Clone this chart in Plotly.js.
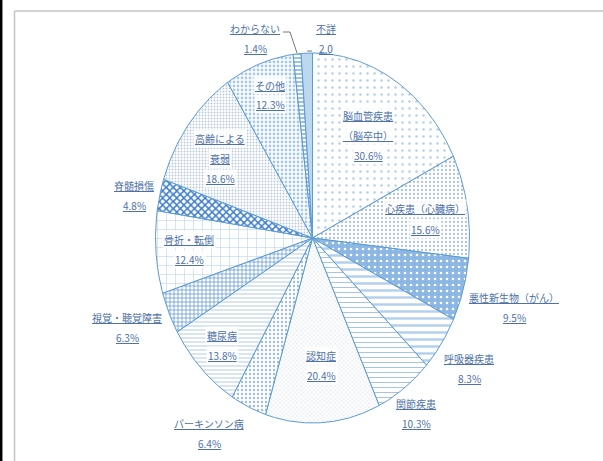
<!DOCTYPE html>
<html><head><meta charset="utf-8">
<script src="https://cdn.plot.ly/plotly-3.0.1.min.js"></script>
<style>html,body{margin:0;padding:0;background:#fff}#chart{width:603px;height:461px}</style>
</head><body><div id="chart"></div>
<script>
// Data (clockwise from 12 o'clock)
const categories = ['脳血管疾患（脳卒中）','心疾患（心臓病）','悪性新生物（がん）','呼吸器疾患','関節疾患','認知症','パーキンソン病','糖尿病','視覚・聴覚障害','骨折・転倒','脊髄損傷','高齢による衰弱','その他','わからない','不詳'];
const values = [30.6, 15.6, 9.5, 8.3, 10.3, 20.4, 6.4, 13.8, 6.3, 12.4, 4.8, 18.6, 12.3, 1.4, 2.0];
const labelLines = [['脳血管疾患','（脳卒中）'],['心疾患（心臓病）'],['悪性新生物（がん）'],['呼吸器疾患'],['関節疾患'],['認知症'],['パーキンソン病'],['糖尿病'],['視覚・聴覚障害'],['骨折・転倒'],['脊髄損傷'],['高齢による','衰弱'],['その他'],['わからない'],['不詳']];
const valueTexts = ['30.6%','15.6%','9.5%','8.3%','10.3%','20.4%','6.4%','13.8%','6.3%','12.4%','4.8%','18.6%','12.3%','1.4%','2.0'];

// Styles
const W = 603, H = 461;
const CX = 312.5, CY = 238, RX = 157, RY = 185;
const edge = '#5b9bd5';
const textColor = '#4e71a8';
const patterns = [
  {bg:'#ffffff', fg:'#b3cfec', shape:'.', size:7, solidity:0.1},
  {bg:'#ffffff', fg:'#b0c2da', shape:'.', size:4, solidity:0.25},
  {bg:'#8db7e3', fg:'#ffffff', shape:'.', size:6, solidity:0.15},
  {bg:'#ffffff', fg:'#b3d0ec', shape:'-', size:7, solidity:0.35},
  {bg:'#ffffff', fg:'#9dbde2', shape:'-', size:5, solidity:0.18},
  {bg:'#ffffff', fg:'#c2cfdf', shape:'x', size:3, solidity:0.18},
  {bg:'#ffffff', fg:'#9dbde2', shape:'.', size:4, solidity:0.28},
  {bg:'#ffffff', fg:'#b5cce6', shape:'-', size:4, solidity:0.25},
  {bg:'#ffffff', fg:'#4a89cf', shape:'+', size:4, solidity:0.3},
  {bg:'#ffffff', fg:'#b5d0ec', shape:'+', size:9, solidity:0.12},
  {bg:'#ffffff', fg:'#3d7cc9', shape:'x', size:5, solidity:0.5},
  {bg:'#ffffff', fg:'#bac8da', shape:'.', size:3, solidity:0.3},
  {bg:'#ffffff', fg:'#a9c9e8', shape:'.', size:4, solidity:0.4},
  {bg:'#ffffff', fg:'#5b9bd5', shape:'-', size:4, solidity:0.3},
  {bg:'#bdd7ee', fg:'#bdd7ee', shape:'', size:4, solidity:0.3}
];
// label positions in pixels: [x, y of first line]
const labelPos = [
  [368,115],[425,209],[514,297],[469,358],[416,403],[321,355],[209,423],[222,335],[127,317],[189,239],[134,185],[220,138],[270,85],[255,28],[326,28]
];
const inside = [true,true,false,false,false,true,false,true,false,true,false,true,true,false,false];

const total = values.reduce((a,b)=>a+b,0);
let cum = 0;
const traces = values.map((v,i)=>{
  const a0 = cum/total*2*Math.PI; cum += v; const a1 = cum/total*2*Math.PI;
  const n = Math.max(2, Math.ceil((a1-a0)/(Math.PI/360)));
  const xs=[0], ys=[0];
  for(let k=0;k<=n;k++){const a=a0+(a1-a0)*k/n; xs.push(Math.sin(a)); ys.push(Math.cos(a));}
  xs.push(0); ys.push(0);
  const p = patterns[i];
  const t = {type:'scatter', mode:'lines', x:xs, y:ys, fill:'toself', fillcolor:p.bg,
    line:{color:edge, width:1}, hoverinfo:'skip', showlegend:false, name:categories[i]};
  if(p.shape) t.fillpattern = {shape:p.shape, bgcolor:p.bg, fgcolor:p.fg, size:p.size, solidity:p.solidity, fillmode:'replace'};
  return t;
});

const px = x => x/W, py = y => 1 - y/H;
const annotations = [];
const font = {family:'"Noto Sans CJK JP", "Noto Sans", sans-serif', size:10, color:textColor};
values.forEach((v,i)=>{
  const lines = labelLines[i].concat([valueTexts[i]]);
  lines.forEach((ln,j)=>{
    annotations.push({xref:'paper', yref:'paper', x:px(labelPos[i][0]), y:py(labelPos[i][1]+j*20),
      text:'<u>'+ln+'</u>', showarrow:false, xanchor:'center', yanchor:'middle', font:font,
      bgcolor: inside[i] ? 'rgba(255,255,255,0.85)' : 'rgba(0,0,0,0)', borderpad:1});
  });
});

const shapes = [
  {type:'line', xref:'paper', yref:'paper', x0:px(1.2), x1:px(1.2), y0:0, y1:1, line:{color:'#000', width:2.5}},
  {type:'line', xref:'paper', yref:'paper', x0:px(14.5), x1:px(14.5), y0:py(11), y1:0, line:{color:'#c4c4c4', width:1.5}},
  {type:'line', xref:'paper', yref:'paper', x0:px(14.5), x1:1, y0:py(11), y1:py(11), line:{color:'#c4c4c4', width:1.5}},
  // leader lines
  {type:'line', xref:'paper', yref:'paper', x0:px(283), x1:px(290), y0:py(32), y1:py(32), line:{color:'#555', width:0.8}},
  {type:'line', xref:'paper', yref:'paper', x0:px(290), x1:px(297), y0:py(32), y1:py(53), line:{color:'#555', width:0.8}},
  {type:'line', xref:'paper', yref:'paper', x0:px(307), x1:px(312), y0:py(51), y1:py(51), line:{color:'#555', width:0.8}}
];

const layout = {
  width:W, height:H, margin:{l:0,r:0,t:0,b:0},
  paper_bgcolor:'#ffffff', plot_bgcolor:'rgba(0,0,0,0)',
  xaxis:{range:[-CX/RX, (W-CX)/RX], visible:false, fixedrange:true},
  yaxis:{range:[-(H-CY)/RY, CY/RY], visible:false, fixedrange:true},
  annotations:annotations, shapes:shapes, showlegend:false
};
Plotly.newPlot('chart', traces, layout, {staticPlot:true, displayModeBar:false});
</script></body></html>
